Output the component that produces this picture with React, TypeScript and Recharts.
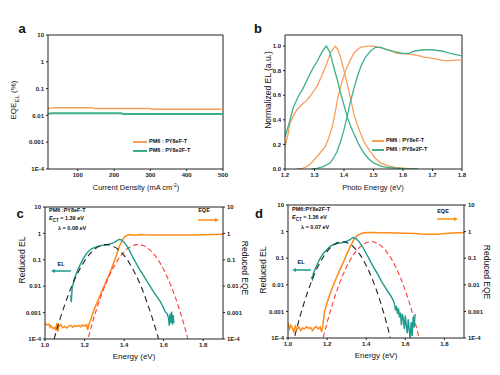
import React from 'react';
import { ComposedChart, Line, XAxis, YAxis, ReferenceLine } from 'recharts';

type Pt = { x: number; y: number };
const pts = (arr: number[][]): Pt[] => arr.map(([x, y]) => ({ x, y }));

// ---------- shared tick labels ----------
const logTicks = [1e-4, 1e-3, 0.01, 0.1, 1, 10];
const logTickLabels = ['1E-4', '0.001', '0.01', '0.1', '1', '10'];
const fmtLog = (v: number) => {
  const i = logTicks.findIndex((t) => Math.abs(Math.log10(t) - Math.log10(v)) < 1e-6);
  return i >= 0 ? logTickLabels[i] : String(v);
};

// ---------- panel a ----------
const densityTicks = [100, 200, 300, 400, 500];
const eqeElPY8eF = [[18, 0.018], [35, 0.0195], [140, 0.0195], [145, 0.018], [300, 0.018], [305, 0.017], [500, 0.017]];
const eqeElPY8e2F = [[18, 0.0115], [30, 0.012], [220, 0.012], [225, 0.0112], [500, 0.0112]];

// ---------- panel b ----------
const photoTicks = [1.2, 1.3, 1.4, 1.5, 1.6, 1.7, 1.8];
const normTicks = [0, 0.2, 0.4, 0.6, 0.8, 1.0];
const elPY8e2F = [[1.2, 0.26], [1.215, 0.38], [1.228, 0.5], [1.245, 0.59], [1.26, 0.65], [1.28, 0.75], [1.295, 0.82], [1.308, 0.87], [1.325, 0.95], [1.34, 1.0], [1.352, 0.95], [1.365, 0.83], [1.378, 0.72], [1.388, 0.62], [1.4, 0.52], [1.41, 0.43], [1.422, 0.35], [1.433, 0.29], [1.45, 0.2], [1.467, 0.13], [1.485, 0.08], [1.5, 0.05], [1.53, 0.02], [1.56, 0.01], [1.6, 0.003], [1.65, 0.0]];
const elPY8eF = [[1.2, 0.18], [1.21, 0.28], [1.217, 0.37], [1.23, 0.44], [1.24, 0.48], [1.26, 0.53], [1.275, 0.56], [1.29, 0.61], [1.308, 0.67], [1.325, 0.76], [1.342, 0.86], [1.355, 0.95], [1.37, 1.0], [1.38, 0.97], [1.388, 0.91], [1.4, 0.8], [1.41, 0.7], [1.42, 0.6], [1.433, 0.45], [1.445, 0.36], [1.456, 0.29], [1.47, 0.21], [1.49, 0.14], [1.505, 0.09], [1.524, 0.05], [1.55, 0.025], [1.58, 0.01], [1.62, 0.003], [1.65, 0.0]];
const absPY8eF = [[1.24, 0.0], [1.26, 0.005], [1.274, 0.02], [1.29, 0.05], [1.308, 0.1], [1.322, 0.14], [1.336, 0.18], [1.348, 0.25], [1.36, 0.34], [1.37, 0.46], [1.38, 0.59], [1.392, 0.7], [1.405, 0.8], [1.42, 0.88], [1.433, 0.94], [1.445, 0.97], [1.456, 0.99], [1.48, 1.0], [1.5, 1.0], [1.535, 0.98], [1.56, 0.96], [1.58, 0.94], [1.62, 0.935], [1.65, 0.925], [1.67, 0.91], [1.7, 0.9], [1.73, 0.885], [1.75, 0.88], [1.78, 0.885], [1.8, 0.885]];
const absPY8e2F = [[1.29, 0.0], [1.308, 0.005], [1.33, 0.02], [1.353, 0.05], [1.365, 0.09], [1.376, 0.14], [1.388, 0.22], [1.4, 0.32], [1.41, 0.42], [1.42, 0.53], [1.432, 0.64], [1.445, 0.75], [1.458, 0.84], [1.473, 0.91], [1.49, 0.96], [1.507, 0.99], [1.525, 0.99], [1.546, 0.97], [1.57, 0.955], [1.6, 0.94], [1.62, 0.94], [1.64, 0.96], [1.67, 0.97], [1.7, 0.97], [1.73, 0.96], [1.76, 0.94], [1.78, 0.93], [1.8, 0.92]];

// ---------- panel c ----------
const energyTicks = [1.0, 1.2, 1.4, 1.6, 1.8];
const cReducedEL = [[1.13, 0.0046], [1.133, 0.0025], [1.137, 0.008], [1.142, 0.012], [1.149, 0.0195], [1.16, 0.032], [1.169, 0.047], [1.18, 0.07], [1.194, 0.11], [1.207, 0.16], [1.22, 0.21], [1.232, 0.25], [1.245, 0.28], [1.26, 0.31], [1.279, 0.34], [1.3, 0.36], [1.321, 0.38], [1.34, 0.43], [1.355, 0.48], [1.367, 0.55], [1.377, 0.6], [1.387, 0.56], [1.397, 0.48], [1.41, 0.37], [1.422, 0.27], [1.435, 0.17], [1.448, 0.11], [1.465, 0.065], [1.481, 0.04], [1.5, 0.024], [1.515, 0.0155], [1.532, 0.0098], [1.549, 0.0061], [1.566, 0.004], [1.583, 0.0026], [1.596, 0.0017], [1.608, 0.00107], [1.618, 0.0009], [1.625, 0.0006], [1.628, 0.00032], [1.632, 0.0009], [1.636, 0.0004], [1.64, 0.0011], [1.645, 0.00035], [1.648, 0.0008], [1.652, 0.0004]];
const cElFit = [[1.046, 0.0001], [1.06, 0.00023], [1.08, 0.00072], [1.1, 0.002], [1.12, 0.0053], [1.14, 0.0124], [1.16, 0.0265], [1.18, 0.051], [1.2, 0.091], [1.22, 0.146], [1.24, 0.213], [1.26, 0.283], [1.28, 0.342], [1.3, 0.376], [1.32, 0.376], [1.34, 0.342], [1.36, 0.283], [1.38, 0.213], [1.4, 0.146], [1.42, 0.091], [1.44, 0.051], [1.46, 0.0265], [1.48, 0.0124], [1.5, 0.0053], [1.52, 0.002], [1.54, 0.00072], [1.56, 0.00023], [1.574, 0.0001]];
const cReducedEQE = [[1.0, 0.0004], [1.01, 0.00034], [1.02, 0.00036], [1.025, 0.00028], [1.03, 0.00032], [1.04, 0.00025], [1.05, 0.00027], [1.055, 0.00021], [1.06, 0.0004], [1.065, 0.00019], [1.07, 0.0003], [1.08, 0.00035], [1.09, 0.00027], [1.1, 0.0003], [1.11, 0.00026], [1.12, 0.00031], [1.13, 0.00033], [1.14, 0.00028], [1.15, 0.00032], [1.16, 0.0003], [1.17, 0.00033], [1.18, 0.00029], [1.19, 0.00034], [1.2, 0.00031], [1.21, 0.00035], [1.215, 0.00022], [1.222, 0.00036], [1.23, 0.0005], [1.245, 0.0011], [1.262, 0.0023], [1.279, 0.0046], [1.295, 0.0085], [1.312, 0.017], [1.33, 0.034], [1.346, 0.072], [1.36, 0.14], [1.372, 0.27], [1.385, 0.45], [1.397, 0.67], [1.41, 0.8], [1.422, 0.88], [1.44, 0.88], [1.456, 0.86], [1.481, 0.9], [1.5, 0.88], [1.55, 0.87], [1.6, 0.87], [1.65, 0.87], [1.7, 0.87], [1.75, 0.87], [1.8, 0.88], [1.85, 0.9], [1.9, 0.92]];
const cEqeFit = [[1.22, 0.00012], [1.24, 0.00042], [1.26, 0.0013], [1.28, 0.0036], [1.3, 0.0091], [1.32, 0.021], [1.34, 0.043], [1.36, 0.08], [1.38, 0.134], [1.4, 0.202], [1.42, 0.275], [1.44, 0.339], [1.46, 0.376], [1.48, 0.376], [1.5, 0.339], [1.52, 0.275], [1.54, 0.202], [1.56, 0.134], [1.58, 0.08], [1.6, 0.043], [1.62, 0.021], [1.64, 0.0091], [1.66, 0.0036], [1.68, 0.0013], [1.7, 0.00042], [1.72, 0.00012], [1.73, 0.00007]];

// ---------- panel d ----------
const dReducedEL = [[1.119, 0.02], [1.125, 0.016], [1.13, 0.028], [1.145, 0.049], [1.157, 0.078], [1.17, 0.115], [1.183, 0.16], [1.196, 0.2], [1.209, 0.25], [1.222, 0.3], [1.235, 0.33], [1.247, 0.35], [1.264, 0.37], [1.281, 0.39], [1.298, 0.43], [1.315, 0.49], [1.325, 0.55], [1.332, 0.6], [1.34, 0.58], [1.349, 0.53], [1.362, 0.43], [1.375, 0.32], [1.388, 0.22], [1.4, 0.15], [1.413, 0.1], [1.426, 0.065], [1.443, 0.04], [1.46, 0.024], [1.477, 0.014], [1.494, 0.0087], [1.511, 0.0056], [1.528, 0.0036], [1.538, 0.0026], [1.545, 0.0018], [1.55, 0.0011], [1.555, 0.0016], [1.56, 0.0008], [1.565, 0.0013], [1.57, 0.0006], [1.575, 0.0009], [1.58, 0.0003], [1.585, 0.0008], [1.59, 0.0005], [1.595, 0.00022], [1.6, 0.0007], [1.605, 0.0003], [1.61, 0.00015], [1.615, 0.0005], [1.62, 0.0002], [1.625, 0.00009], [1.63, 0.0004], [1.635, 0.00012], [1.64, 0.0006], [1.645, 0.00025], [1.65, 0.0008]];
const dElFit = [[1.035, 0.00012], [1.05, 0.00032], [1.07, 0.00107], [1.09, 0.0032], [1.11, 0.0085], [1.13, 0.0205], [1.15, 0.044], [1.17, 0.084], [1.19, 0.144], [1.21, 0.222], [1.23, 0.305], [1.25, 0.377], [1.27, 0.416], [1.29, 0.411], [1.31, 0.365], [1.33, 0.289], [1.35, 0.205], [1.37, 0.13], [1.39, 0.074], [1.41, 0.038], [1.43, 0.0173], [1.45, 0.0071], [1.47, 0.0026], [1.49, 0.00085], [1.51, 0.00025], [1.525, 0.00009]];
const dReducedEQE = [[1.0, 0.00036], [1.008, 0.00022], [1.015, 0.0003], [1.022, 0.00024], [1.03, 0.00017], [1.037, 0.00028], [1.045, 0.00021], [1.055, 0.00026], [1.065, 0.00019], [1.075, 0.00024], [1.085, 0.00022], [1.095, 0.00027], [1.105, 0.00023], [1.115, 0.00025], [1.125, 0.00019], [1.135, 0.00024], [1.145, 0.00027], [1.155, 0.00022], [1.165, 0.00026], [1.172, 0.00017], [1.178, 0.00028], [1.183, 0.0006], [1.187, 0.001], [1.2, 0.0021], [1.213, 0.0042], [1.23, 0.009], [1.247, 0.018], [1.264, 0.035], [1.281, 0.065], [1.298, 0.13], [1.315, 0.24], [1.328, 0.38], [1.341, 0.56], [1.354, 0.7], [1.366, 0.79], [1.38, 0.86], [1.392, 0.9], [1.41, 0.92], [1.43, 0.92], [1.46, 0.91], [1.5, 0.9], [1.55, 0.88], [1.6, 0.86], [1.65, 0.84], [1.7, 0.8], [1.73, 0.79], [1.77, 0.8], [1.8, 0.84], [1.85, 0.88], [1.9, 0.92]];
const dEqeFit = [[1.18, 0.000105], [1.2, 0.00038], [1.22, 0.00126], [1.24, 0.0037], [1.26, 0.0098], [1.28, 0.023], [1.3, 0.049], [1.32, 0.091], [1.34, 0.155], [1.36, 0.234], [1.38, 0.318], [1.4, 0.385], [1.42, 0.419], [1.44, 0.407], [1.46, 0.355], [1.48, 0.277], [1.5, 0.193], [1.52, 0.121], [1.54, 0.068], [1.56, 0.034], [1.58, 0.0152], [1.6, 0.0061], [1.62, 0.0022], [1.64, 0.00071], [1.66, 0.0002], [1.672, 0.00009]];

// ---------- text ----------
const legendNames = ['PM6 : PY8eF-T', 'PM6 : PY8e2F-T'];
const cInfo = ['PM6 :PY8eF-T', '1.39 eV', '0.08 eV'];
const dInfo = ['PM6:PY8e2F-T', '1.36 eV', '0.07 eV'];

// ---------- styles ----------
const FONT = '"Liberation Sans", Arial, sans-serif';
const AX = '#222';
const ORANGE_L = '#F5A05A';
const GREEN_L = '#3DB08A';
const TEAL = '#1E9A8E';
const ORANGE = '#FF8A14';
const RED = '#FF3B3B';
const tickStyle = { fontSize: 6, fill: '#222', fontWeight: 'bold' as const };

const T: React.FC<{ x: number; y: number; size?: number; bold?: boolean; rot?: number; align?: 'center' | 'left'; children: React.ReactNode }> = ({ x, y, size = 8, bold = false, rot = 0, align = 'center', children }) => (
  <div
    style={{
      position: 'absolute',
      left: x,
      top: y,
      fontSize: size,
      fontWeight: bold ? 'bold' : 'normal',
      whiteSpace: 'nowrap',
      lineHeight: 1,
      color: '#111',
      transform: `translate(${align === 'center' ? '-50%' : '0'}, -50%) rotate(${rot}deg)`,
      transformOrigin: align === 'center' ? 'center center' : 'left center',
    }}
  >
    {children}
  </div>
);

const Arrow: React.FC<{ x1: number; x2: number; y: number; color: string; dir: 'left' | 'right' }> = ({ x1, x2, y, color, dir }) => (
  <svg style={{ position: 'absolute', left: 0, top: 0, overflow: 'visible' }} width={1} height={1}>
    <line x1={dir === 'left' ? x1 + 3 : x1} x2={dir === 'right' ? x2 - 3 : x2} y1={y} y2={y} stroke={color} strokeWidth={1.5} />
    {dir === 'left' ? (
      <polygon points={`${x1},${y} ${x1 + 4},${y - 2} ${x1 + 4},${y + 2}`} fill={color} />
    ) : (
      <polygon points={`${x2},${y} ${x2 - 4},${y - 2} ${x2 - 4},${y + 2}`} fill={color} />
    )}
  </svg>
);

const LegendRow: React.FC<{ x: number; y: number; len: number; color: string; label: string; w?: number }> = ({ x, y, len, color, label, w = 1.5 }) => (
  <>
    <div style={{ position: 'absolute', left: x, top: y - w / 2, width: len, height: w, background: color }} />
    <T x={x + len + 2} y={y} size={5.5} bold align="left">{label}</T>
  </>
);

const line = (data: number[][], color: string, width = 1.3, dash?: string, yAxisId: string = 'l') => (
  <Line
    data={pts(data)}
    dataKey="y"
    yAxisId={yAxisId}
    type="linear"
    stroke={color}
    strokeWidth={width}
    strokeDasharray={dash}
    dot={false}
    activeDot={false}
    isAnimationActive={false}
  />
);

const logAxis = (id: string, orientation: 'left' | 'right', width: number) => (
  <YAxis
    yAxisId={id}
    orientation={orientation}
    type="number"
    scale="log"
    domain={[1e-4, 10]}
    ticks={logTicks}
    tickFormatter={fmtLog}
    allowDataOverflow
    interval={0}
    width={width}
    tick={tickStyle}
    tickSize={2}
    stroke={AX}
  />
);

export default function App() {
  return (
    <div style={{ position: 'absolute', left: 0, top: 0, width: 500, height: 375, background: '#fff', fontFamily: FONT, overflow: 'hidden' }}>
      {/* ---------- a ---------- */}
      <div style={{ position: 'absolute', left: 0, top: 0 }}>
        <ComposedChart width={250} height={190} margin={{ top: 35, right: 27, bottom: 0, left: 18 }}>
          <XAxis type="number" dataKey="x" domain={[18, 500]} ticks={densityTicks} allowDataOverflow interval={0} height={21} tick={tickStyle} tickSize={2} stroke={AX} />
          {logAxis('l', 'left', 30)}
          <ReferenceLine yAxisId="l" y={10} stroke={AX} />
          <ReferenceLine yAxisId="l" x={500} stroke={AX} />
          {line(eqeElPY8eF, ORANGE_L, 1.5)}
          {line(eqeElPY8e2F, GREEN_L, 2)}
        </ComposedChart>
      </div>
      <T x={22} y={28} size={13} bold>a</T>
      <T x={15} y={100} rot={-90}>EQE<sub style={{ fontSize: 6 }}>EL</sub> (%)</T>
      <T x={136} y={187} size={7.5}>Current Density (mA cm<sup style={{ fontSize: 5 }}>-2</sup>)</T>
      <LegendRow x={133} y={142} len={14} color={ORANGE_L} label={legendNames[0]} />
      <LegendRow x={133} y={151} len={14} color={GREEN_L} label={legendNames[1]} w={2} />

      {/* ---------- b ---------- */}
      <div style={{ position: 'absolute', left: 250, top: 0 }}>
        <ComposedChart width={250} height={190} margin={{ top: 35, right: 38, bottom: 0, left: 10 }}>
          <XAxis type="number" dataKey="x" domain={[1.2, 1.8]} ticks={photoTicks} tickFormatter={(v: number) => v.toFixed(1)} allowDataOverflow interval={0} height={21} tick={tickStyle} tickSize={2} stroke={AX} />
          <YAxis yAxisId="l" type="number" domain={[0, 1.09]} ticks={normTicks} tickFormatter={(v: number) => v.toFixed(1)} allowDataOverflow interval={0} width={25} tick={tickStyle} tickSize={2} stroke={AX} />
          <ReferenceLine yAxisId="l" y={1.09} stroke={AX} />
          <ReferenceLine yAxisId="l" x={1.8} stroke={AX} />
          {line(absPY8eF, ORANGE_L, 1.3)}
          {line(elPY8eF, ORANGE_L, 1.3)}
          {line(absPY8e2F, GREEN_L, 1.3)}
          {line(elPY8e2F, GREEN_L, 1.3)}
        </ComposedChart>
      </div>
      <T x={258} y={28} size={13} bold>b</T>
      <T x={268} y={90} size={8.5} rot={-90}>Normalized EL (a.u.)</T>
      <T x={373} y={188} size={7.5}>Photo Energy (eV)</T>
      <LegendRow x={372} y={141} len={12} color={ORANGE_L} label={legendNames[0]} />
      <LegendRow x={372} y={150} len={12} color={GREEN_L} label={legendNames[1]} />

      {/* ---------- c ---------- */}
      <div style={{ position: 'absolute', left: 0, top: 190 }}>
        <ComposedChart width={250} height={185} margin={{ top: 17, right: 7, bottom: 0, left: 18 }}>
          <XAxis type="number" dataKey="x" domain={[1.0, 1.9]} ticks={energyTicks} tickFormatter={(v: number) => v.toFixed(1)} allowDataOverflow interval={0} height={36} tick={tickStyle} tickSize={2} stroke={AX} />
          {logAxis('l', 'left', 27)}
          {logAxis('r', 'right', 20)}
          <ReferenceLine yAxisId="l" y={10} stroke={AX} />
          {line(cReducedEQE, ORANGE, 1.5, undefined, 'r')}
          {line(cEqeFit, RED, 1.1, '5 3', 'r')}
          {line(cReducedEL, TEAL, 1.4)}
          {line(cElFit, '#222', 1.1, '6 4')}
        </ComposedChart>
      </div>
      <T x={20} y={213} size={13} bold>c</T>
      <T x={22} y={260} size={8.5} rot={-90}>Reduced EL</T>
      <T x={245} y={268} size={8.5} rot={90}>Reduced EQE</T>
      <T x={134} y={357} size={8}>Energy (eV)</T>
      <T x={49} y={211} size={5.5} bold align="left">{cInfo[0]}</T>
      <T x={49} y={220} size={5.5} bold align="left"><i>E</i><sub style={{ fontSize: 4.5 }}>CT</sub> = {cInfo[1]}</T>
      <T x={58} y={229} size={5.5} bold align="left">λ = {cInfo[2]}</T>
      <T x={204} y={211} size={5.5} bold>EQE</T>
      <Arrow x1={198} x2={219} y={220} color={ORANGE} dir="right" />
      <T x={61} y={265} size={5.5} bold>EL</T>
      <Arrow x1={51} x2={71} y={271} color={TEAL} dir="left" />

      {/* ---------- d ---------- */}
      <div style={{ position: 'absolute', left: 250, top: 190 }}>
        <ComposedChart width={250} height={185} margin={{ top: 15, right: 16, bottom: 0, left: 11 }}>
          <XAxis type="number" dataKey="x" domain={[1.0, 1.9]} ticks={energyTicks} tickFormatter={(v: number) => v.toFixed(1)} allowDataOverflow interval={0} height={37} tick={tickStyle} tickSize={2} stroke={AX} />
          {logAxis('l', 'left', 27)}
          {logAxis('r', 'right', 20)}
          <ReferenceLine yAxisId="l" y={10} stroke={AX} />
          {line(dReducedEQE, ORANGE, 1.5, undefined, 'r')}
          {line(dEqeFit, RED, 1.1, '5 3', 'r')}
          {line(dReducedEL, TEAL, 1.4)}
          {line(dElFit, '#222', 1.1, '6 4')}
        </ComposedChart>
      </div>
      <T x={259} y={213} size={13} bold>d</T>
      <T x={263} y={270} size={8.5} rot={-90}>Reduced EL</T>
      <T x={487} y={272} size={8.5} rot={90}>Reduced EQE</T>
      <T x={376} y={356} size={8}>Energy (eV)</T>
      <T x={292} y={210} size={5.5} bold align="left">{dInfo[0]}</T>
      <T x={292} y={219} size={5.5} bold align="left"><i>E</i><sub style={{ fontSize: 4.5 }}>CT</sub> = {dInfo[1]}</T>
      <T x={301} y={228} size={5.5} bold align="left">λ = {dInfo[2]}</T>
      <T x={443} y={212} size={5.5} bold>EQE</T>
      <Arrow x1={437} x2={458} y={219} color={ORANGE} dir="right" />
      <T x={301} y={263} size={5.5} bold>EL</T>
      <Arrow x1={292} x2={311} y={270} color={TEAL} dir="left" />
    </div>
  );
}
